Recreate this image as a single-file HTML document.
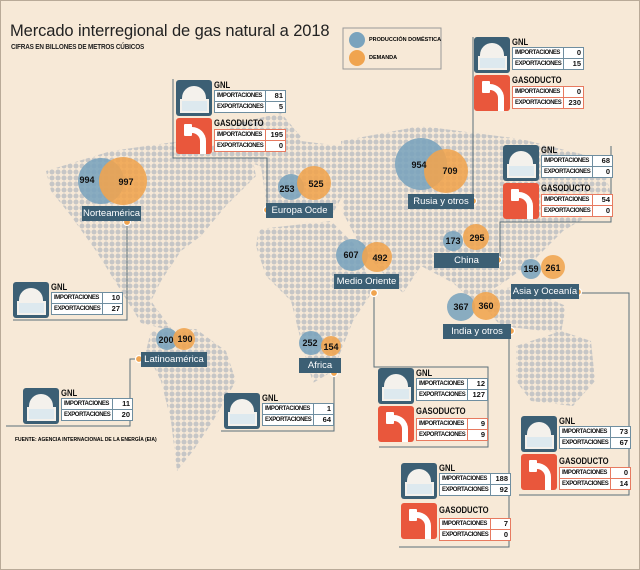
<!DOCTYPE html>
<html><head><meta charset="utf-8"><style>
body{margin:0}
#c{position:relative;width:640px;height:570px;background:#f7e9d7;overflow:hidden;font-family:"Liberation Sans",sans-serif;box-sizing:border-box;border:1px solid #b9aa98}
.a{position:absolute}
.title{left:9px;top:21px;font-size:16.5px;color:#222;letter-spacing:-.1px}
.sub{left:10px;top:41px;font-size:7.5px;font-weight:bold;color:#222;transform:scaleX(.85);transform-origin:0 0;letter-spacing:-.2px}
.bx{position:absolute;width:110px}
.ic{position:absolute;left:0;width:36px;height:36px;border-radius:3px;overflow:hidden}
.b{background:#3c5f74}.r{background:#e9573c}
.b::before{content:"";position:absolute;left:6px;top:6px;width:24px;height:14px;background:#f4f1ec;border-radius:12px 12px 0 0}
.b::after{content:"";position:absolute;left:4px;top:19px;width:25px;height:10px;background:#dde9ef;border:2px solid #f4f1ec}
.r::before{content:"";position:absolute;left:8px;top:6px;width:8px;height:12px;background:#fff;border-radius:1px}
.r::after{content:"";position:absolute;left:14px;top:9px;width:10px;height:22px;border:6px solid #fff;border-left:none;border-bottom:none;border-radius:0 14px 0 0}
.h{position:absolute;left:38px;font-size:9px;font-weight:bold;color:#111;transform:scaleX(.85);transform-origin:0 0}
table{position:absolute;left:38px;border-collapse:collapse;background:#fff}
td{height:10px;padding:0 2px;font-size:6px;font-weight:bold;color:#111;line-height:10px}
td.l{width:40px;letter-spacing:-.4px}
td.v{width:18px;text-align:right;font-size:7.5px}
.tb td{border:1px solid #6f8ea0}.tr td{border:1px solid #e77a60}
.lab{position:absolute;background:#3c5f74;color:#fff;font-size:9.5px;text-align:center;line-height:15px;height:15px}
.n{position:absolute;font-size:9px;font-weight:bold;color:#111;transform:translate(-50%,-50%)}
</style></head><body><div id="c">
<svg class="a" style="left:0;top:0" width="640" height="570">
<defs><pattern id="d" width="6" height="6" patternUnits="userSpaceOnUse"><circle cx="3" cy="3" r="2.5" fill="#c6c6c6"/></pattern></defs>
<g fill="url(#d)">
<polygon points="45,170 110,150 180,140 250,150 255,175 225,205 200,235 180,250 160,280 150,300 172,330 140,322 120,290 95,250 70,215 50,190"/>
<polygon points="225,125 280,112 302,138 272,170 245,160"/>
<polygon points="150,330 195,328 225,350 235,380 212,420 192,450 176,470 170,420 160,380 145,350"/>
<polygon points="260,165 300,140 340,145 350,180 332,212 290,217 265,200"/>
<polygon points="258,228 330,220 355,245 372,290 352,320 332,370 312,382 300,340 290,300 265,275 255,245"/>
<polygon points="340,140 420,125 520,138 600,158 612,200 562,230 532,260 502,282 472,300 452,282 420,265 402,292 382,272 362,250 342,212"/>
<polygon points="470,292 520,285 565,305 560,332 500,325"/>
<polygon points="515,345 560,330 590,340 594,380 572,405 530,400 515,380"/>
</g>
<g fill="none" stroke="#5b6f7a" stroke-width="1">
<polyline points="172,78 172,157 266,157 266,205"/>
<polyline points="12,319 126,319 126,222"/>
<polyline points="5,425 129,425 129,358 136,358"/>
<polyline points="220,430 333,430 333,374"/>
<polyline points="472,36 472,198"/>
<polyline points="610,145 610,221 499,221 499,256"/>
<polyline points="378,446 487,446 487,366 373,366 373,294"/>
<polyline points="398,546 508,546 508,330"/>
<polyline points="518,494 628,494 628,292 578,292"/>
</g>
<g fill-opacity=".88">
<circle cx="100" cy="180" r="23" fill="#7aa3bd"/><circle cx="122" cy="180" r="24" fill="#f0a44f"/>
<circle cx="290" cy="186" r="13" fill="#7aa3bd"/><circle cx="313" cy="182" r="17" fill="#f0a44f"/>
<circle cx="420" cy="163" r="26" fill="#7aa3bd"/><circle cx="445" cy="170" r="22" fill="#f0a44f"/>
<circle cx="452" cy="240" r="10" fill="#7aa3bd"/><circle cx="475" cy="236" r="13" fill="#f0a44f"/>
<circle cx="351" cy="254" r="16" fill="#7aa3bd"/><circle cx="376" cy="256" r="15" fill="#f0a44f"/>
<circle cx="530" cy="268" r="10" fill="#7aa3bd"/><circle cx="552" cy="266" r="12" fill="#f0a44f"/>
<circle cx="460" cy="306" r="14" fill="#7aa3bd"/><circle cx="485" cy="305" r="14" fill="#f0a44f"/>
<circle cx="166" cy="338" r="11" fill="#7aa3bd"/><circle cx="183" cy="338" r="11" fill="#f0a44f"/>
<circle cx="310" cy="342" r="12" fill="#7aa3bd"/><circle cx="330" cy="345" r="10" fill="#f0a44f"/>
</g>
<rect x="342" y="27" width="98" height="41" fill="#f7e9d7" stroke="#999"/>
<circle cx="356" cy="39" r="8" fill="#7aa3bd"/><circle cx="356" cy="57" r="8" fill="#f0a44f"/>
<g fill="#f0a44f" stroke="#fff" stroke-width="1.2">
<circle cx="126" cy="221" r="3.5"/><circle cx="266" cy="209" r="3.5"/><circle cx="472" cy="200" r="3.5"/><circle cx="497" cy="259" r="3.5"/><circle cx="373" cy="292" r="3.5"/><circle cx="577" cy="291" r="3.5"/><circle cx="510" cy="330" r="3.5"/><circle cx="138" cy="358" r="3.5"/><circle cx="333" cy="372" r="3.5"/>
</g>
</svg>
<div class="a title">Mercado interregional de gas natural a 2018</div>
<div class="a sub">CIFRAS EN BILLONES DE METROS CÚBICOS</div>
<div class="a" style="left:368px;top:36px;font-size:5.5px;font-weight:bold">PRODUCCIÓN DOMÉSTICA</div>
<div class="a" style="left:368px;top:54px;font-size:5.5px;font-weight:bold">DEMANDA</div>
<div class="a" style="left:14px;top:436px;font-size:5px;font-weight:bold">FUENTE: AGENCIA INTERNACIONAL DE LA ENERGÍA (EIA)</div>

<div class="n" style="left:86px;top:179px">994</div><div class="n" style="left:125px;top:181px">997</div>
<div class="n" style="left:286px;top:188px">253</div><div class="n" style="left:315px;top:183px">525</div>
<div class="n" style="left:418px;top:164px">954</div><div class="n" style="left:449px;top:170px">709</div>
<div class="n" style="left:452px;top:240px">173</div><div class="n" style="left:476px;top:237px">295</div>
<div class="n" style="left:350px;top:254px">607</div><div class="n" style="left:379px;top:257px">492</div>
<div class="n" style="left:530px;top:268px">159</div><div class="n" style="left:552px;top:267px">261</div>
<div class="n" style="left:460px;top:306px">367</div><div class="n" style="left:485px;top:305px">360</div>
<div class="n" style="left:165px;top:339px">200</div><div class="n" style="left:184px;top:338px">190</div>
<div class="n" style="left:309px;top:342px">252</div><div class="n" style="left:330px;top:346px">154</div>

<div class="lab" style="left:81px;top:205px;width:59px">Norteamérica</div>
<div class="lab" style="left:265px;top:202px;width:67px">Europa Ocde</div>
<div class="lab" style="left:407px;top:193px;width:66px">Rusia y otros</div>
<div class="lab" style="left:433px;top:252px;width:65px">China</div>
<div class="lab" style="left:333px;top:273px;width:65px">Medio Oriente</div>
<div class="lab" style="left:510px;top:283px;width:68px">Asia y Oceanía</div>
<div class="lab" style="left:442px;top:323px;width:68px">India y otros</div>
<div class="lab" style="left:140px;top:351px;width:66px">Latinoamérica</div>
<div class="lab" style="left:298px;top:357px;width:42px">Africa</div>

<div class="bx" style="left:175px;top:79px">
<div class="ic b" style="top:0"></div><div class="h" style="top:0">GNL</div>
<table class="tb" style="top:10px"><tr><td class="l">IMPORTACIONES</td><td class="v">81</td></tr><tr><td class="l">EXPORTACIONES</td><td class="v">5</td></tr></table>
<div class="ic r" style="top:38px"></div><div class="h" style="top:38px">GASODUCTO</div>
<table class="tr" style="top:49px"><tr><td class="l">IMPORTACIONES</td><td class="v">195</td></tr><tr><td class="l">EXPORTACIONES</td><td class="v">0</td></tr></table></div>
<div class="bx" style="left:473px;top:36px">
<div class="ic b" style="top:0"></div><div class="h" style="top:0">GNL</div>
<table class="tb" style="top:10px"><tr><td class="l">IMPORTACIONES</td><td class="v">0</td></tr><tr><td class="l">EXPORTACIONES</td><td class="v">15</td></tr></table>
<div class="ic r" style="top:38px"></div><div class="h" style="top:38px">GASODUCTO</div>
<table class="tr" style="top:49px"><tr><td class="l">IMPORTACIONES</td><td class="v">0</td></tr><tr><td class="l">EXPORTACIONES</td><td class="v">230</td></tr></table></div>
<div class="bx" style="left:502px;top:144px">
<div class="ic b" style="top:0"></div><div class="h" style="top:0">GNL</div>
<table class="tb" style="top:10px"><tr><td class="l">IMPORTACIONES</td><td class="v">68</td></tr><tr><td class="l">EXPORTACIONES</td><td class="v">0</td></tr></table>
<div class="ic r" style="top:38px"></div><div class="h" style="top:38px">GASODUCTO</div>
<table class="tr" style="top:49px"><tr><td class="l">IMPORTACIONES</td><td class="v">54</td></tr><tr><td class="l">EXPORTACIONES</td><td class="v">0</td></tr></table></div>
<div class="bx" style="left:12px;top:281px">
<div class="ic b" style="top:0"></div><div class="h" style="top:0">GNL</div>
<table class="tb" style="top:10px"><tr><td class="l">IMPORTACIONES</td><td class="v">10</td></tr><tr><td class="l">EXPORTACIONES</td><td class="v">27</td></tr></table></div>
<div class="bx" style="left:22px;top:387px">
<div class="ic b" style="top:0"></div><div class="h" style="top:0">GNL</div>
<table class="tb" style="top:10px"><tr><td class="l">IMPORTACIONES</td><td class="v">11</td></tr><tr><td class="l">EXPORTACIONES</td><td class="v">20</td></tr></table></div>
<div class="bx" style="left:223px;top:392px">
<div class="ic b" style="top:0"></div><div class="h" style="top:0">GNL</div>
<table class="tb" style="top:10px"><tr><td class="l">IMPORTACIONES</td><td class="v">1</td></tr><tr><td class="l">EXPORTACIONES</td><td class="v">64</td></tr></table></div>
<div class="bx" style="left:377px;top:367px">
<div class="ic b" style="top:0"></div><div class="h" style="top:0">GNL</div>
<table class="tb" style="top:10px"><tr><td class="l">IMPORTACIONES</td><td class="v">12</td></tr><tr><td class="l">EXPORTACIONES</td><td class="v">127</td></tr></table>
<div class="ic r" style="top:38px"></div><div class="h" style="top:38px">GASODUCTO</div>
<table class="tr" style="top:50px"><tr><td class="l">IMPORTACIONES</td><td class="v">9</td></tr><tr><td class="l">EXPORTACIONES</td><td class="v">9</td></tr></table></div>
<div class="bx" style="left:400px;top:462px">
<div class="ic b" style="top:0"></div><div class="h" style="top:0">GNL</div>
<table class="tb" style="top:10px"><tr><td class="l">IMPORTACIONES</td><td class="v">188</td></tr><tr><td class="l">EXPORTACIONES</td><td class="v">92</td></tr></table>
<div class="ic r" style="top:40px"></div><div class="h" style="top:42px">GASODUCTO</div>
<table class="tr" style="top:55px"><tr><td class="l">IMPORTACIONES</td><td class="v">7</td></tr><tr><td class="l">EXPORTACIONES</td><td class="v">0</td></tr></table></div>
<div class="bx" style="left:520px;top:415px">
<div class="ic b" style="top:0"></div><div class="h" style="top:0">GNL</div>
<table class="tb" style="top:10px"><tr><td class="l">IMPORTACIONES</td><td class="v">73</td></tr><tr><td class="l">EXPORTACIONES</td><td class="v">67</td></tr></table>
<div class="ic r" style="top:38px"></div><div class="h" style="top:40px">GASODUCTO</div>
<table class="tr" style="top:51px"><tr><td class="l">IMPORTACIONES</td><td class="v">0</td></tr><tr><td class="l">EXPORTACIONES</td><td class="v">14</td></tr></table></div>
</div></body></html>
